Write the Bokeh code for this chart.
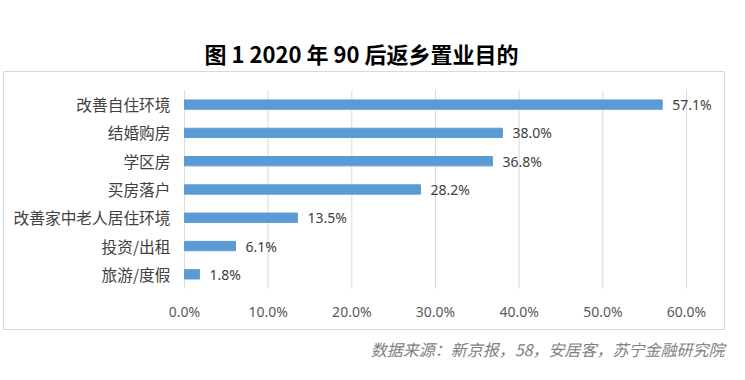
from bokeh.plotting import figure
from bokeh.models import ColumnDataSource, Range1d, Title
from bokeh.core.properties import value
from bokeh.embed import file_html
from bokeh.resources import INLINE

categories = ["改善自住环境", "结婚购房", "学区房", "买房落户", "改善家中老人居住环境", "投资/出租", "旅游/度假"]
values = [57.1, 38.0, 36.8, 28.2, 13.5, 6.1, 1.8]
value_labels = ["57.1%", "38.0%", "36.8%", "28.2%", "13.5%", "6.1%", "1.8%"]
x_ticks = [0, 10, 20, 30, 40, 50, 60]
x_tick_labels = ["0.0%", "10.0%", "20.0%", "30.0%", "40.0%", "50.0%", "60.0%"]
title_text = "图 1  2020 年 90 后返乡置业目的"
source_text = "数据来源：新京报，58，安居客，苏宁金融研究院"

n = len(categories)
ypos = [n - 1 - i for i in range(n)]  # first category on top

W, H = 740, 372
BL, BR, BT, BB = 3, 724, 71, 329  # chart box (frame) in canvas pixels

src = ColumnDataSource(dict(cat=categories, y=ypos, val=values, lab=value_labels))
ticks = ColumnDataSource(dict(x=x_ticks, lab=x_tick_labels,
                              y0=[-0.5] * len(x_ticks), y1=[n - 0.5] * len(x_ticks)))

p = figure(width=W, height=H, output_backend="svg", toolbar_location=None,
           x_range=Range1d(-21.63, 64.54), y_range=Range1d(-1.95, n + 0.17),
           min_border_left=BL, min_border_right=W - BR, min_border_top=BT, min_border_bottom=H - BB)
p.axis.visible = False
p.grid.visible = False
p.outline_line_color = "#d9d9d9"
p.outline_line_width = 1
p.background_fill_color = "white"
p.border_fill_color = "white"

# vertical gridlines at the tick values, spanning the category band
p.segment(x0="x", x1="x", y0="y0", y1="y1", source=ticks, line_color="#d9d9d9", line_width=1)

p.hbar(y="y", right="val", left=0, height=0.33, source=src, color="#5B9BD5")

# value labels
p.text(x="val", y="y", text="lab", source=src, x_offset=10,
       text_align="left", text_baseline="middle",
       text_font=value("Noto Sans"), text_font_size="14px", text_color="#404040")

# category labels (left of 0)
p.text(x=0, y="y", text="cat", source=src, x_offset=-14,
       text_align="right", text_baseline="middle",
       text_font=value("Noto Sans CJK SC"), text_font_size="15.7px", text_color="#404040")

# x tick labels
p.text(x="x", y="y0", text="lab", source=ticks, y_offset=14,
       text_align="center", text_baseline="top",
       text_font=value("Noto Sans"), text_font_size="14px", text_color="#595959")

p.title.text = title_text
p.title.align = "center"
p.title.standoff = 6
p.title.text_font = "Noto Sans CJK SC"
p.title.text_font_style = "bold"
p.title.text_font_size = "22px"
p.title.text_color = "#000000"

p.add_layout(Title(text=source_text, align="right", standoff=10,
                   text_font="Noto Sans CJK SC", text_font_style="italic",
                   text_font_size="16px", text_color="#808080"), "below")

open("out.html", "w").write(file_html(p, INLINE))
